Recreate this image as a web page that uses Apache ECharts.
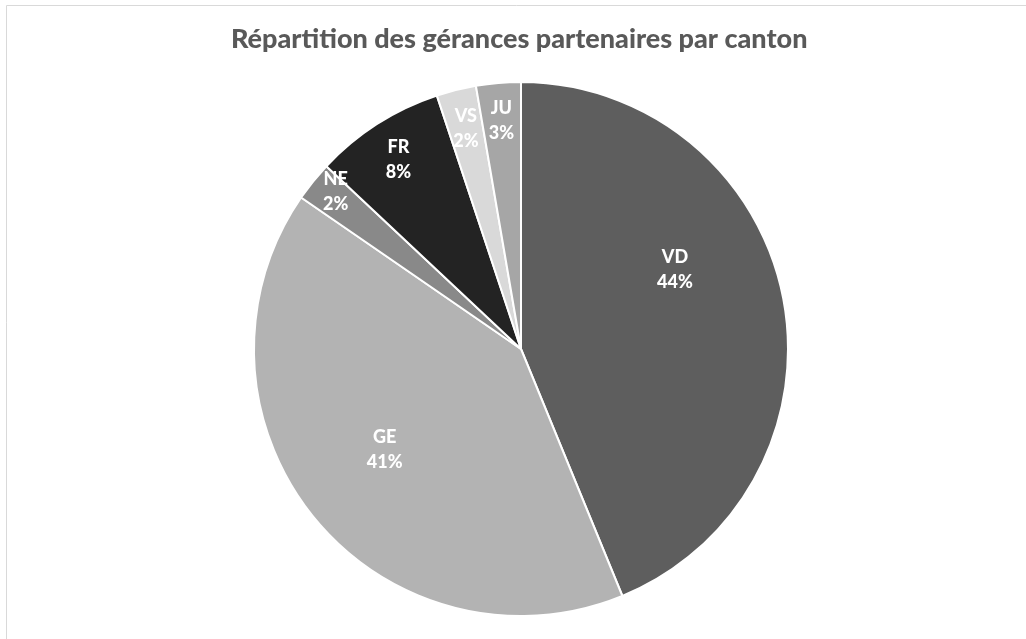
<!DOCTYPE html>
<html>
<head>
<meta charset="utf-8">
<script src="https://cdn.jsdelivr.net/npm/echarts@6/dist/echarts.min.js"></script>
<style>
  html, body { margin: 0; padding: 0; background: #fff; }
  #chart { width: 1026px; height: 639px; }
</style>
</head>
<body>
<div id="chart"></div>
<script>
// cantons, dans le sens horaire depuis midi
const cantons = ['VD', 'GE', 'NE', 'FR', 'VS', 'JU'];
const parts = [43.8, 40.8, 2.4, 7.9, 2.4, 2.7];
const couleurs = ['#5e5e5e', '#b3b3b3', '#898989', '#232323', '#d9d9d9', '#a6a6a6'];
// petit décalage des étiquettes (placement "meilleur ajustement" d'Excel)
const decalages = [[20, -53], [-30, 15], [-79, -72], [-49, -74], [-22, -88], [-8, -92]];

const total = parts.reduce((a, b) => a + b, 0);

const chart = echarts.init(document.getElementById('chart'));
chart.setOption({
  animation: false,
  title: {
    text: 'Répartition des gérances partenaires par canton',
    left: 226,
    top: 21,
    textStyle: { fontFamily: 'Lato', fontWeight: 900, fontSize: 27, color: '#595959' }
  },
  graphic: [{
    type: 'polyline',
    shape: { points: [[6.5, 700], [6.5, 5.5], [1100, 5.5]] },
    style: { stroke: '#d9d9d9', lineWidth: 1, fill: null },
    silent: true
  }],
  series: [{
    type: 'pie',
    center: [521, 349],
    radius: 267,
    startAngle: 90,
    clockwise: true,
    itemStyle: { borderColor: '#ffffff', borderWidth: 2 },
    label: {
      position: 'inside',
      color: '#ffffff',
      fontFamily: 'Lato',
      fontWeight: 900,
      fontSize: 18,
      lineHeight: 25,
      formatter: p => p.name + '\n' + Math.round(p.value / total * 100) + '%'
    },
    labelLine: { show: false },
    emphasis: { disabled: true },
    data: cantons.map((c, i) => ({
      name: c,
      value: parts[i],
      itemStyle: { color: couleurs[i] },
      label: { offset: decalages[i] }
    }))
  }]
});
</script>
</body>
</html>
